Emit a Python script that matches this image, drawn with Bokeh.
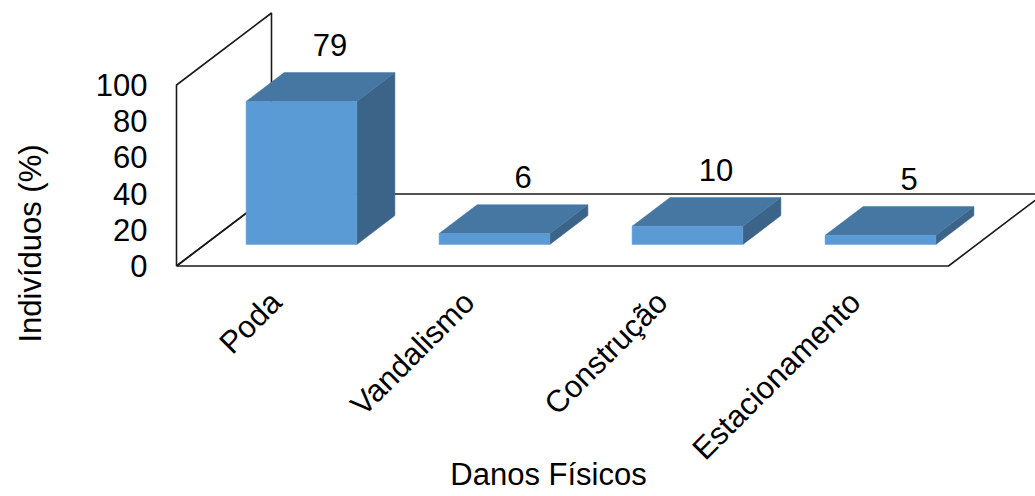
import math
from bokeh.plotting import figure
from bokeh.models import Range1d
from bokeh.core.properties import value
from bokeh.embed import file_html
from bokeh.resources import INLINE

# ---- data ----
categories = ["Poda", "Vandalismo", "Construção", "Estacionamento"]
percent = [79, 6, 10, 5]
y_ticks = [0, 20, 40, 60, 80, 100]
y_max = 100
x_title = "Danos Físicos"
y_title = "Indivíduos (%)"

# ---- layout of the oblique 3D box (x in category units, y in % units) ----
W, H = 1035, 496
LEFT_PX = 176.0        # screen x of the front-left floor corner
CAT_PX = 193.0         # screen width of one category slot
FLOOR_PX = 265.5       # screen y of the front floor edge
UNIT_PX = 1.81         # screen pixels per percentage point
DX = 95.0 / CAT_PX     # depth shift, x (category units)
DY = 72.0 / UNIT_PX    # depth shift, y (% units)
BAR_W = 0.574
D_FRONT, D_BACK = 0.3, 0.7
D_LABEL = 0.6

FONT = value("Liberation Sans")
FS = "31px"

p = figure(width=W, height=H, output_backend="svg", toolbar_location=None,
           x_range=Range1d(-LEFT_PX / CAT_PX, (W - LEFT_PX) / CAT_PX),
           y_range=Range1d((FLOOR_PX - H) / UNIT_PX, FLOOR_PX / UNIT_PX),
           min_border=0)
p.xaxis.visible = False
p.yaxis.visible = False
p.grid.visible = False
p.outline_line_color = None
p.background_fill_color = "white"
p.border_fill_color = "white"

n = len(categories)

# back wall and floor outlines
wall_x = [0, 0, DX, DX, 0]
wall_y = [0, y_max, y_max + DY, DY, 0]
floor_x = [0, n, n + DX, DX, 0]
floor_y = [0, 0, DY, DY, 0]
p.multi_line(xs=[wall_x, floor_x], ys=[wall_y, floor_y],
             line_color="#1a1a1a", line_width=1.6)

# bars: front, top and side faces
front_xs, front_ys, top_xs, top_ys, side_xs, side_ys = [], [], [], [], [], []
for i, v in enumerate(percent):
    x0 = i + 0.5 - BAR_W / 2
    x1 = i + 0.5 + BAR_W / 2
    fx, fy = D_FRONT * DX, D_FRONT * DY
    bx, by = D_BACK * DX, D_BACK * DY
    front_xs.append([x0 + fx, x1 + fx, x1 + fx, x0 + fx])
    front_ys.append([fy, fy, v + fy, v + fy])
    top_xs.append([x0 + fx, x1 + fx, x1 + bx, x0 + bx])
    top_ys.append([v + fy, v + fy, v + by, v + by])
    side_xs.append([x1 + fx, x1 + bx, x1 + bx, x1 + fx])
    side_ys.append([fy, by, v + by, v + fy])

p.patches(side_xs, side_ys, fill_color="#3c6489", line_color="#3c6489", line_width=0.5)
p.patches(top_xs, top_ys, fill_color="#4676a2", line_color="#4676a2", line_width=0.5)
p.patches(front_xs, front_ys, fill_color="#5b9bd5", line_color="#5b9bd5", line_width=0.5)

# value labels above the bars
p.text(x=[i + 0.5 + D_LABEL * DX for i in range(n)],
       y=[v + D_BACK * DY for v in percent],
       text=[str(v) for v in percent], y_offset=-28,
       text_align="center", text_baseline="middle",
       text_font=FONT, text_font_size=FS, text_color="black")

# y tick labels along the front-left wall edge
p.text(x=[0] * len(y_ticks), y=y_ticks, text=[str(t) for t in y_ticks],
       x_offset=-29, text_align="right", text_baseline="middle",
       text_font=FONT, text_font_size=FS, text_color="black")

# category labels, rotated
p.text(x=[i + 0.5 for i in range(n)], y=[0] * n, text=categories,
       x_offset=3, y_offset=31, angle=math.pi / 4,
       text_align="right", text_baseline="middle",
       text_font=FONT, text_font_size=FS, text_color="black")

# axis titles
p.text(x=[n / 2], y=[0], text=[x_title], x_offset=-14, y_offset=208.5,
       text_align="center", text_baseline="middle",
       text_font=FONT, text_font_size=FS, text_color="black")
p.text(x=[0], y=[0], text=[y_title], x_offset=-146, y_offset=-22.5,
       angle=math.pi / 2, text_align="center", text_baseline="middle",
       text_font=FONT, text_font_size=FS, text_color="black")

open("out.html", "w").write(file_html(p, INLINE))
